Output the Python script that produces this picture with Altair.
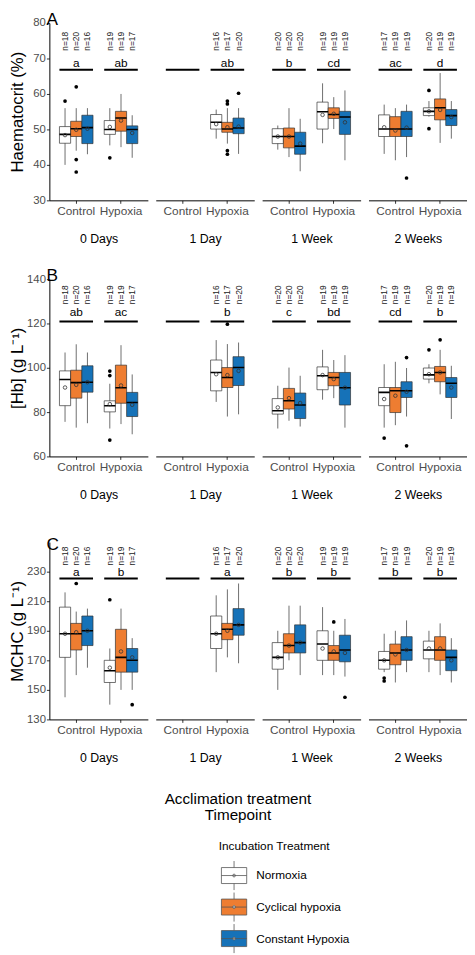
import altair as alt
import pandas as pd

FONT = "Liberation Sans"

TIMEPOINTS = ["0 Days", "1 Day", "1 Week", "2 Weeks"]
ACCLIM = ["Control", "Hypoxia"]
TREATMENTS = ["Normoxia", "Cyclical hypoxia", "Constant Hypoxia"]
COLORS = ["#FFFFFF", "#EE7D31", "#1672B8"]

# groups that hold data (1 Day / Control is empty)
GROUP_TIME = ["0 Days", "0 Days", "1 Day", "1 Week", "1 Week", "2 Weeks", "2 Weeks"]
GROUP_ACC = ["Control", "Hypoxia", "Hypoxia", "Control", "Hypoxia", "Control", "Hypoxia"]
N_COUNTS = [[18, 20, 16], [19, 19, 17], [16, 17, 20], [20, 20, 20],
            [19, 19, 19], [17, 19, 19], [20, 19, 19]]

# significance bars / letters (all 8 groups)
BAR_TIME = ["0 Days", "0 Days", "1 Day", "1 Day", "1 Week", "1 Week", "2 Weeks", "2 Weeks"]
BAR_ACC = ["Control", "Hypoxia"] * 4
HCT_LETTERS = ["a", "ab", "", "ab", "b", "cd", "ac", "d"]
HB_LETTERS = ["ab", "ac", "", "b", "c", "bd", "cd", "b"]
MCHC_LETTERS = ["a", "b", "", "a", "b", "b", "b", "b"]

# box statistics per group and treatment: (lower whisker, q1, median, q3, upper whisker, mean)
HCT_STATS = [
    [(40, 46.1, 48.6, 50.8, 56, 48.4), (44, 48, 50.2, 52.3, 56, 49.9), (43, 46, 50.5, 54, 56, 50.2)],
    [(45.5, 48.6, 50, 52.5, 56, 50.7), (45, 49.5, 53.2, 55.1, 60, 52.5), (42, 46, 50, 51, 54, 49)],
    [(47.4, 50.1, 52, 54.2, 55.6, 51.5), (46, 49.2, 50.1, 52, 56, 50.6), (43.1, 48.8, 50.4, 53.2, 56, 50.8)],
    [(44.3, 46, 48, 50.2, 51.1, 48), (42.2, 44.8, 48, 50.4, 56, 48), (38.2, 43, 45.3, 49.2, 53, 46)],
    [(46.1, 50.1, 55, 57.7, 63, 54.1), (50.1, 53.1, 54.2, 56.1, 59.1, 54.4), (41.3, 48.6, 53.5, 55.1, 61, 52)],
    [(43.1, 48, 50.1, 54.1, 57, 50.6), (41.3, 48, 50.1, 53.6, 56, 49.7), (42.2, 48, 50.1, 55.1, 57, 50.5)],
    [(53.6, 53.9, 55.1, 56.1, 58, 55.1), (46.2, 52.7, 56.1, 58.6, 65.9, 55.5), (47.4, 51.1, 53.9, 55.6, 58, 53.5)],
]
HCT_OUT_GROUP = [0, 1, 1, 1, 3, 7, 7, 7, 7, 8, 17, 18, 18]
HCT_OUT_VALUE = [58, 62, 41.5, 38, 42, 58, 57.2, 44, 43, 60.2, 36.3, 61, 50.2]

HB_STATS = [
    [(75.6, 82.9, 94.7, 98.6, 106.9, 91.1), (73, 86.3, 93.3, 98.9, 110.6, 92.3), (75, 89, 93.5, 100.9, 106.9, 93.5)],
    [(72.6, 80.1, 82.9, 85.1, 92.8, 83.6), (74.6, 84, 91, 101.2, 110.2, 92), (70, 78, 84.3, 88.9, 97, 83.3)],
    [(84.6, 89.6, 97.9, 103.5, 112.5, 97.1), (78, 91.1, 95.6, 100.1, 110.7, 96.7), (79, 92, 100.1, 105, 111.4, 98.6)],
    [(72.6, 79.1, 80.6, 86.1, 91.9, 82.1), (76.1, 81.4, 85.1, 90.7, 100.1, 86.3), (73.5, 77.1, 83.2, 88.6, 96.4, 84.1)],
    [(85.6, 90.1, 96.4, 100.4, 108.1, 96.7), (86.3, 91.9, 95.6, 97.9, 103.5, 94.9), (73, 83.2, 91, 97.9, 105.7, 91)],
    [(73, 82.9, 88.9, 91.1, 101.6, 85.9), (74.1, 79.8, 89.6, 91.1, 102.7, 87.4), (78, 86.6, 89.6, 93.7, 99.9, 89.2)],
    [(93, 94.9, 96.8, 99.9, 101.6, 97.1), (88, 93.7, 97.9, 100.6, 108.1, 97.9), (76.9, 86.6, 93, 95.6, 100.9, 91.1)],
]
HB_OUT_GROUP = [3, 3, 3, 7, 15, 17, 17, 18, 19]
HB_OUT_VALUE = [98.5, 96.5, 67.4, 119.7, 68.3, 104.6, 64.8, 108.1, 112.6]

MCHC_STATS = [
    [(145, 172, 188, 206, 216, 188), (160, 177, 188, 195, 203, 189), (165, 180, 190, 200, 205, 190)],
    [(140, 155, 163, 170, 178, 165), (150, 162, 172, 191, 205, 176), (150, 162, 170, 178, 185, 172)],
    [(162, 178, 188, 200, 214, 188), (172, 184, 191, 195, 218, 190), (168, 187, 194, 205, 222, 194)],
    [(150, 164, 172, 182, 190, 172), (170, 175, 180, 188, 207, 180), (160, 175, 182, 194, 207, 182)],
    [(160, 170, 181, 190, 206, 178), (160, 170, 175, 180, 190, 176), (159, 169, 177, 187, 198, 175)],
    [(162, 164, 170, 176, 188, 170), (155, 167, 175, 181, 190, 174), (162, 170, 177, 186, 197, 177)],
    [(162, 171, 177, 183, 190, 178), (160, 170, 177, 186, 195, 178), (155, 163, 172, 177, 185, 170)],
]
MCHC_OUT_GROUP = [1, 3, 5, 13, 14, 15, 15]
MCHC_OUT_VALUE = [222, 211, 140, 196, 145, 158, 156]

STAT_KEYS = ["lo", "q1", "med", "q3", "hi", "mean"]


def stats_frame(stats):
    rows = []
    for g, (t, a) in enumerate(zip(GROUP_TIME, GROUP_ACC)):
        for k, tr in enumerate(TREATMENTS):
            row = dict(zip(STAT_KEYS, stats[g][k]))
            row.update(time=t, acc=a, treat=tr, n=f"n={N_COUNTS[g][k]}")
            rows.append(row)
    return pd.DataFrame(rows)


def outlier_frame(groups, values):
    rows = []
    for idx, v in zip(groups, values):
        g, k = divmod(idx, 3)
        rows.append(dict(time=GROUP_TIME[g], acc=GROUP_ACC[g], treat=TREATMENTS[k], value=v))
    return pd.DataFrame(rows)


def bar_frame(letters):
    return pd.DataFrame({"time": BAR_TIME, "acc": BAR_ACC, "letter": letters})


PANELS = [
    dict(tag="A", ytitle="Haematocrit (%)", domain=[30, 80], ticks=[30, 40, 50, 60, 70, 80],
         n_y=72.2, letter_y=68.8, bar_y=66.8,
         stats=stats_frame(HCT_STATS), out=outlier_frame(HCT_OUT_GROUP, HCT_OUT_VALUE),
         bars=bar_frame(HCT_LETTERS)),
    dict(tag="B", ytitle="[Hb] (g L\u207b\u00b9)", domain=[60, 140], ticks=[60, 80, 100, 120, 140],
         n_y=128.7, letter_y=125.2, bar_y=120.9,
         stats=stats_frame(HB_STATS), out=outlier_frame(HB_OUT_GROUP, HB_OUT_VALUE),
         bars=bar_frame(HB_LETTERS)),
    dict(tag="C", ytitle="MCHC (g L\u207b\u00b9)", domain=[130, 250], ticks=[130, 150, 170, 190, 210, 230],
         n_y=234.2, letter_y=230.0, bar_y=225.4,
         stats=stats_frame(MCHC_STATS), out=outlier_frame(MCHC_OUT_GROUP, MCHC_OUT_VALUE),
         bars=bar_frame(MCHC_LETTERS)),
]

W, H = 100, 180

BOX_SYMBOL = ("M-0.87,-0.55H0.87V0.55H-0.87Z M-0.87,0H0.87 M0,-0.55V-1 M0,0.55V1 "
              "M0.1,0A0.1,0.1 0 1,0 -0.1,0A0.1,0.1 0 1,0 0.1,0Z")

fill_enc = alt.Fill(
    "treat:N",
    scale=alt.Scale(domain=TREATMENTS, range=COLORS),
    legend=alt.Legend(
        title="Incubation Treatment", orient="none", legendX=172, legendY=831,
        direction="vertical", symbolType=BOX_SYMBOL, symbolSize=870,
        symbolStrokeColor="#555555", symbolStrokeWidth=0.8, symbolOpacity=1,
        labelFontSize=12, titleFontSize=12, titleFontWeight="normal",
        labelOffset=7, rowPadding=-1, titlePadding=7, labelColor="black",
        titleColor="black", labelFont=FONT, titleFont=FONT,
    ),
)


def facet(panel, time, first):
    d = panel["stats"][panel["stats"].time == time]
    o = panel["out"][panel["out"].time == time]
    b = panel["bars"][panel["bars"].time == time]
    x = alt.X("acc:N",
              scale=alt.Scale(domain=ACCLIM, paddingInner=0.25, paddingOuter=0.225),
              axis=alt.Axis(title=time, labelAngle=0, tickSize=3, labelPadding=2,
                            titlePadding=17, labelFontSize=12, titleFontSize=12.5,
                            labelColor="#4d4d4d", titleColor="black",
                            titleFontWeight="normal", domainColor="black",
                            tickColor="#333333", domainWidth=1))
    xo = alt.XOffset("treat:N", scale=alt.Scale(domain=TREATMENTS, paddingInner=0, paddingOuter=0))
    yscale = alt.Scale(domain=panel["domain"], nice=False, zero=False)
    if first:
        yaxis = alt.Axis(title=panel["ytitle"], values=panel["ticks"], tickSize=3,
                         labelPadding=1, titlePadding=1, labelFontSize=11.5, titleFontSize=17,
                         labelColor="#4d4d4d", titleColor="black", titleFontWeight="normal",
                         domainColor="black", tickColor="#333333", domainWidth=1,
                         minExtent=22, maxExtent=22)
    else:
        yaxis = None

    def Y(field):
        return alt.Y(field, scale=yscale, axis=yaxis)

    def YD(v):
        return alt.YDatum(v, scale=yscale, axis=yaxis)

    base = alt.Chart(d)
    whisk = base.mark_rule(color="#6e6e6e", strokeWidth=1).encode(
        x=x, xOffset=xo, y=Y("lo:Q"), y2="hi:Q")
    box = base.mark_bar(stroke="#333333", strokeWidth=0.7, opacity=1).encode(
        x=x, xOffset=xo, y=Y("q1:Q"), y2="q3:Q", fill=fill_enc)
    med = base.mark_bar(stroke="black", strokeWidth=1.6, fill="black").encode(
        x=x, xOffset=xo, y=Y("med:Q"), y2="med:Q")
    mean = base.mark_point(shape="circle", filled=False, size=13, stroke="#333333",
                           strokeWidth=0.8, opacity=1).encode(x=x, xOffset=xo, y=Y("mean:Q"))
    ntext = base.mark_text(angle=270, align="left", baseline="middle", fontSize=8.5,
                           color="#222222", font=FONT).encode(
        x=x, xOffset=xo, y=YD(panel["n_y"]), text="n:N")
    layers = [whisk, box, med, mean]
    if len(o):
        outl = alt.Chart(o).mark_circle(size=14, color="black", opacity=1).encode(
            x=x, xOffset=xo, y=Y("value:Q"))
        layers.append(outl)
    bchart = alt.Chart(b)
    sig = bchart.mark_bar(stroke="black", strokeWidth=2, fill="black").encode(
        x=x, y=YD(panel["bar_y"]), y2=alt.Y2Datum(panel["bar_y"]))
    letters = bchart.mark_text(fontSize=12, baseline="middle", color="black", font=FONT).encode(
        x=x, y=YD(panel["letter_y"]), text="letter:N")
    layers += [ntext, sig, letters]
    return alt.layer(*layers).properties(width=W, height=H)


rows = []
for panel in PANELS:
    charts = [facet(panel, t, i == 0) for i, t in enumerate(TIMEPOINTS)]
    row = alt.hconcat(*charts, spacing=8,
                      title=alt.TitleParams(panel["tag"], anchor="start", fontSize=17.5,
                                            fontWeight="normal", font=FONT, color="black",
                                            offset=-11, dx=38))
    rows.append(row)

top_rows = alt.vconcat(rows[0], rows[1], spacing=21)
bottom_row = alt.vconcat(rows[2], title=alt.TitleParams(
    ["Acclimation treatment", "Timepoint"], orient="bottom", anchor="middle",
    fontSize=15.5, fontWeight="normal", font=FONT, color="black", offset=28, lineHeight=16.5))

chart = alt.vconcat(top_rows, bottom_row, spacing=34).properties(
    padding={"left": 1, "top": -5, "right": 0, "bottom": 0}
).configure(font=FONT).configure_axis(grid=False).configure_view(stroke=None)

chart.save("out.html", embed_options={"renderer": "svg", "actions": False})
